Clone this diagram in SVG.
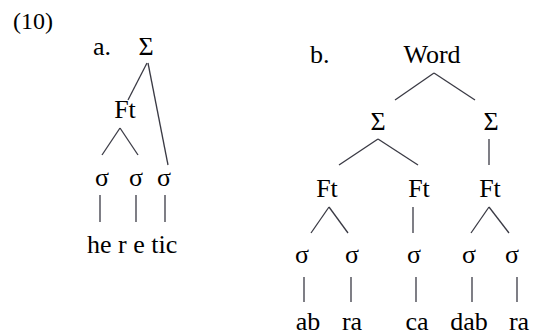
<svg xmlns="http://www.w3.org/2000/svg" width="533" height="336" viewBox="0 0 533 336">
<style>
text{font-family:"Liberation Serif","Times New Roman",serif;font-size:26px;fill:#000}
.m{text-anchor:middle}
#connectors line{stroke:#3a3a44;stroke-width:1.3;fill:none}
</style>
<rect width="533" height="336" fill="#fff"/>
<g id="labels">
<text x="13" y="29" style="font-size:24px">(10)</text>
<text x="93" y="55">a.</text>
<text x="310" y="63">b.</text>
</g>
<g id="connectors">
<line x1="147" y1="63" x2="128" y2="100"/>
<line x1="148" y1="63" x2="168" y2="165"/>
<line x1="120" y1="128" x2="102" y2="155"/>
<line x1="120" y1="128" x2="138" y2="155"/>
<line x1="100" y1="195" x2="100" y2="222"/>
<line x1="136" y1="195" x2="136" y2="222"/>
<line x1="165" y1="195" x2="165" y2="222"/>
<line x1="434" y1="73" x2="395" y2="100"/>
<line x1="434" y1="73" x2="475" y2="100"/>
<line x1="378" y1="139" x2="339" y2="165"/>
<line x1="378" y1="139" x2="418" y2="165"/>
<line x1="489" y1="139" x2="489" y2="165"/>
<line x1="329" y1="207" x2="311" y2="233"/>
<line x1="329" y1="207" x2="348" y2="233"/>
<line x1="413" y1="207" x2="413" y2="233"/>
<line x1="489" y1="207" x2="471" y2="233"/>
<line x1="489" y1="207" x2="509" y2="233"/>
<line x1="304" y1="277" x2="304" y2="302"/>
<line x1="351" y1="277" x2="351" y2="302"/>
<line x1="416" y1="277" x2="416" y2="302"/>
<line x1="472" y1="277" x2="472" y2="302"/>
<line x1="517" y1="277" x2="517" y2="302"/>
</g>
<g id="a-sigma"><text class="m" x="146" y="55">Σ</text></g>
<g id="a-ft"><text class="m" x="125" y="118">Ft</text></g>
<g id="a-s1"><text class="m" x="102" y="186">σ</text></g>
<g id="a-s2"><text class="m" x="136" y="186">σ</text></g>
<g id="a-s3"><text class="m" x="164" y="186">σ</text></g>
<g id="a-word"><text x="87" y="253">he r e tic</text></g>
<g id="b-word"><text class="m" x="432" y="63">Word</text></g>
<g id="b-sigma1"><text class="m" x="378" y="130">Σ</text></g>
<g id="b-sigma2"><text class="m" x="491" y="130">Σ</text></g>
<g id="b-ft1"><text class="m" x="327" y="197">Ft</text></g>
<g id="b-ft2"><text class="m" x="419" y="197">Ft</text></g>
<g id="b-ft3"><text class="m" x="490" y="197">Ft</text></g>
<g id="b-s1"><text class="m" x="302" y="263">σ</text></g>
<g id="b-s2"><text class="m" x="352" y="263">σ</text></g>
<g id="b-s3"><text class="m" x="414" y="263">σ</text></g>
<g id="b-s4"><text class="m" x="469" y="263">σ</text></g>
<g id="b-s5"><text class="m" x="512" y="263">σ</text></g>
<g id="b-ab"><text class="m" x="308" y="330">ab</text></g>
<g id="b-ra1"><text class="m" x="352" y="330">ra</text></g>
<g id="b-ca"><text class="m" x="417" y="330">ca</text></g>
<g id="b-dab"><text class="m" x="469" y="330">dab</text></g>
<g id="b-ra2"><text class="m" x="519" y="330">ra</text></g>
</svg>
